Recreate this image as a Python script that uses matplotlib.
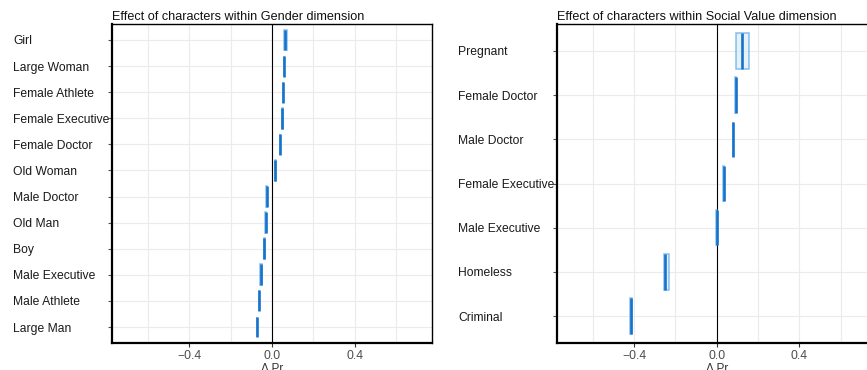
import numpy as np
import matplotlib.pyplot as plt

plt.rcParams['font.family'] = ['Liberation Sans', 'DejaVu Sans']

# Gender dimension: estimate and interval of change in probability
gender_chars = ['Girl', 'Large Woman', 'Female Athlete', 'Female Executive',
                'Female Doctor', 'Old Woman', 'Male Doctor', 'Old Man', 'Boy',
                'Male Executive', 'Male Athlete', 'Large Man']
gender_est = [0.065, 0.058, 0.053, 0.050, 0.039, 0.016,
              -0.026, -0.031, -0.037, -0.052, -0.063, -0.073]
gender_lo = [0.057, 0.056, 0.051, 0.048, 0.037, 0.013,
             -0.028, -0.033, -0.039, -0.056, -0.065, -0.075]
gender_hi = [0.073, 0.060, 0.055, 0.052, 0.041, 0.019,
             -0.024, -0.029, -0.035, -0.048, -0.061, -0.071]

# Social value dimension
social_chars = ['Pregnant', 'Female Doctor', 'Male Doctor', 'Female Executive',
                'Male Executive', 'Homeless', 'Criminal']
social_est = [0.122, 0.092, 0.079, 0.034, 0.000, -0.251, -0.416]
social_lo = [0.093, 0.090, 0.077, 0.032, -0.002, -0.256, -0.420]
social_hi = [0.156, 0.094, 0.081, 0.036, 0.002, -0.232, -0.410]

x_ticks = [-0.4, 0.0, 0.4]
x_tick_labels = ['\u22120.4', '0.0', '0.4']

EDGE = '#4a9ee6'
MID = '#1673cc'
FILL = '#d6e8f8'


def crossbar_panel(ax, chars, est, lo, hi, title):
    n = len(chars)
    y = np.arange(n)[::-1] + 1
    est, lo, hi = map(np.asarray, (est, lo, hi))

    ax.set_xlim(-0.775, 0.775)
    ax.set_ylim(0.4, n + 0.6)

    ax.set_xticks(x_ticks)
    ax.set_xticklabels(x_tick_labels)
    ax.set_xticks([-0.6, -0.2, 0.2, 0.6], minor=True)
    ax.set_yticks(y)
    # labels sit flush left, well away from the axis
    ax.set_yticklabels(chars, ha='left')
    ax.tick_params(axis='y', pad=68, length=3,
                   color='#555555', labelsize=8.7, labelcolor='#1a1a1a')
    ax.tick_params(axis='x', which='major', length=3, color='#333333',
                   labelsize=8.7, labelcolor='#4d4d4d', pad=2)
    ax.tick_params(axis='x', which='minor', length=0)

    ax.grid(True, which='both', color='#ebebeb', linewidth=0.8)
    ax.set_axisbelow(True)
    ax.axvline(0, color='black', linewidth=0.8, zorder=2)

    ax.barh(y, hi - lo, left=lo, height=0.8, color=FILL, alpha=0.6,
            edgecolor=EDGE, linewidth=1.2, zorder=3)
    ax.vlines(est, y - 0.4, y + 0.4, color=MID, linewidth=1.9, zorder=4)

    for s in ax.spines.values():
        s.set_color('black')
        s.set_linewidth(1.0)
    ax.spines['bottom'].set_linewidth(1.6)
    ax.spines['left'].set_linewidth(1.6)

    ax.set_title(title, loc='left', fontsize=9.1, pad=3, color='#111111')
    ax.set_xlabel('\u0394 Pr', fontsize=8.5, color='#333333', labelpad=1)


fig = plt.figure(figsize=(8.67, 3.7), dpi=100)
ax1 = fig.add_axes([0.1292, 0.0738, 0.3691, 0.8605])
ax2 = fig.add_axes([0.6421, 0.0738, 0.3691, 0.8605])

crossbar_panel(ax1, gender_chars, gender_est, gender_lo, gender_hi,
               'Effect of characters within Gender dimension')
crossbar_panel(ax2, social_chars, social_est, social_lo, social_hi,
               'Effect of characters within Social Value dimension')

fig.savefig('out.png', dpi=100)
